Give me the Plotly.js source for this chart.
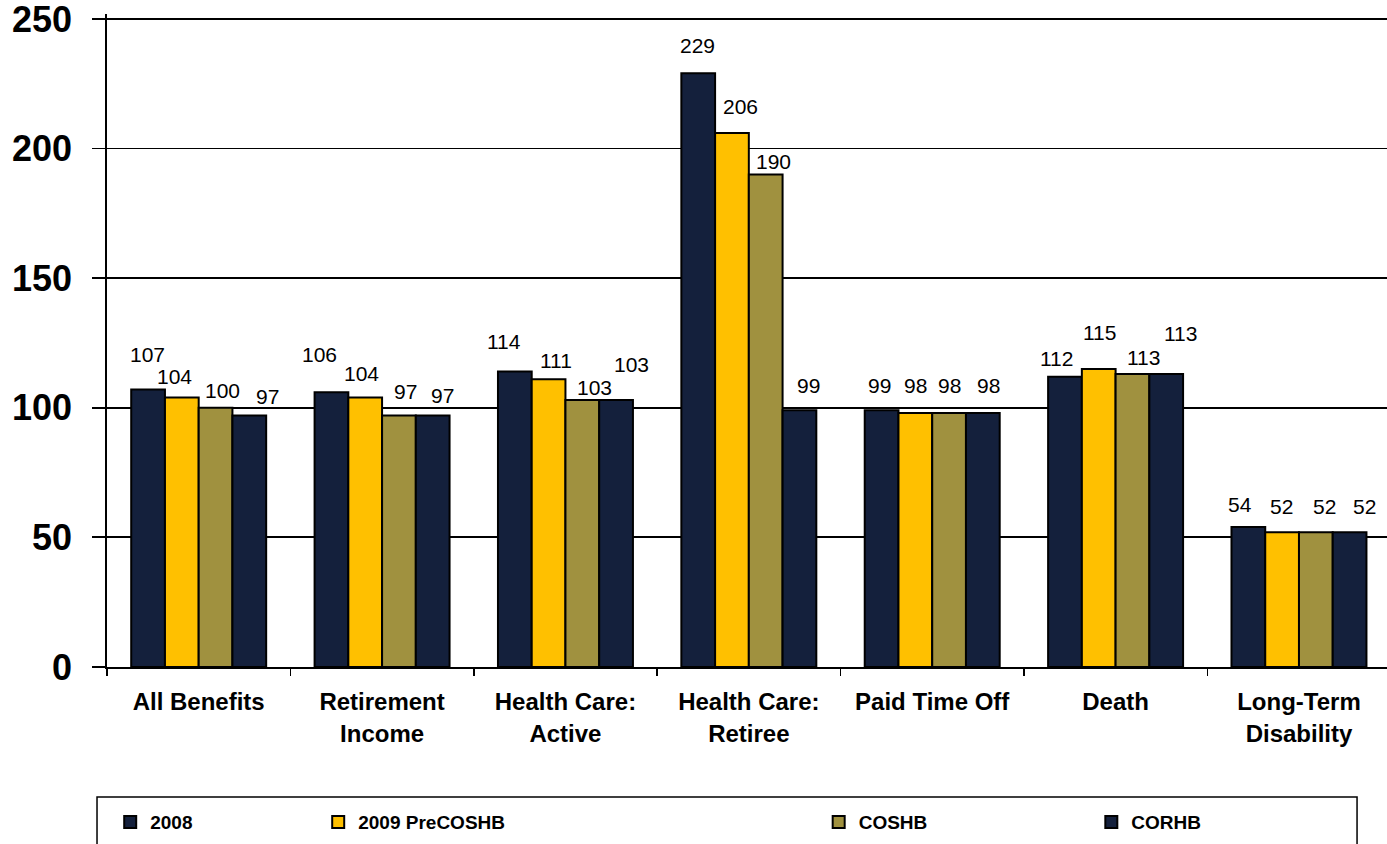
<!DOCTYPE html>
<html>
<head>
<meta charset="utf-8">
<script src="https://cdn.plot.ly/plotly-3.0.1.min.js"></script>
<style>
  html, body { margin: 0; padding: 0; background: #ffffff; }
  #chart { width: 1387px; height: 844px; }
</style>
</head>
<body>
<div id="chart"></div>
<script>
// Benefit cost index by benefit type
const categories = [
  'All Benefits',
  'Retirement<br>Income',
  'Health Care:<br>Active',
  'Health Care:<br>Retiree',
  'Paid Time Off',
  'Death',
  'Long-Term<br>Disability'
];

const seriesNames = ['2008', '2009 PreCOSHB', 'COSHB', 'CORHB'];

const values2008       = [107, 106, 114, 229, 99, 112, 54];
const values2009Pre    = [104, 104, 111, 206, 98, 115, 52];
const valuesCOSHB      = [100,  97, 103, 190, 98, 113, 52];
const valuesCORHB      = [ 97,  97, 103,  99, 98, 113, 52];

const yTickStep = 50;
const yMax = 250;

// styling
const seriesColors = ['#14203C', '#FFC000', '#A0913F', '#14203C'];
const FONT = 'Liberation Sans, Arial, Helvetica, sans-serif';
const BAR_GAP = 0.264;

// hand-placed nudges for the value labels (pixels: right, up from bar top)
const labelNudgeX = [
  [-1, -12, -11, -1, -2, -8, -8],
  [-7,  -4,   7,  9,  0,  1, -1],
  [ 7,   7,  12,  8,  0, 11,  9],
  [18,  10,  15,  9,  6, 14, 15]
];
const labelNudgeY = [
  [35, 38, 30, 28, 25,   18, 23],
  [21, 24, 19, 26, 27.5, 36, 26],
  [17, 24, 12, 13, 27.5, 17, 26],
  [19, 20.5, 35, 25, 27.5, 41, 26]
];

const allSeries = [values2008, values2009Pre, valuesCOSHB, valuesCORHB];
const legendIds = ['legend', 'legend2', 'legend3', 'legend4'];

const traces = allSeries.map((vals, j) => ({
  type: 'bar',
  name: seriesNames[j],
  x: categories,
  y: vals,
  legend: legendIds[j],
  showlegend: true,
  marker: { color: seriesColors[j], line: { color: '#000000', width: 2 } },
  hoverinfo: 'x+y+name'
}));

// value labels, attached to each bar's value
const slotWidth = (1 - BAR_GAP) / allSeries.length;
const annotations = [];
allSeries.forEach((vals, j) => {
  vals.forEach((v, i) => {
    annotations.push({
      xref: 'x', yref: 'y',
      x: i + (j - (allSeries.length - 1) / 2) * slotWidth,
      y: v,
      text: String(v),
      showarrow: false,
      xanchor: 'center', yanchor: 'middle',
      xshift: labelNudgeX[j][i],
      yshift: labelNudgeY[j][i],
      font: { family: FONT, size: 21, color: '#000000' }
    });
  });
});

function legendAt(xPaper) {
  return {
    x: xPaper, xanchor: 'left',
    y: -0.2375, yanchor: 'middle',
    orientation: 'h',
    bgcolor: 'rgba(0,0,0,0)',
    borderwidth: 0,
    font: { family: FONT, size: 19, color: '#000000', weight: 'bold' }
  };
}

const layout = {
  width: 1387,
  height: 844,
  margin: { l: 107, r: 0, t: 14, b: 177, pad: 0 },
  paper_bgcolor: '#ffffff',
  plot_bgcolor: '#ffffff',
  showlegend: true,
  barmode: 'group',
  bargap: BAR_GAP,
  bargroupgap: 0,
  font: { family: FONT, color: '#000000' },
  xaxis: {
    type: 'category',
    range: [-0.5, 6.48],
    showgrid: false,
    showline: true,
    linecolor: '#000000',
    linewidth: 1.5,
    ticks: 'outside',
    tickson: 'boundaries',
    ticklen: 7,
    tickwidth: 1.5,
    tickcolor: '#000000',
    ticklabelstandoff: 13,
    tickfont: { family: FONT, size: 24, color: '#000000', weight: 'bold' },
    fixedrange: true
  },
  yaxis: {
    autorange: false,
    range: [0, yMax + 1.9],
    tickmode: 'linear',
    tick0: 0,
    dtick: yTickStep,
    ticklabeloverflow: 'allow',
    showgrid: true,
    gridcolor: '#000000',
    gridwidth: 1.8,
    zeroline: false,
    showline: true,
    linecolor: '#000000',
    linewidth: 1.8,
    ticks: 'outside',
    ticklen: 13,
    tickwidth: 1.8,
    tickcolor: '#000000',
    ticklabelstandoff: 13,
    tickfont: { family: FONT, size: 36, color: '#000000', weight: 'bold' },
    fixedrange: true
  },
  legend: legendAt(0.0025),
  legend2: legendAt(0.165),
  legend3: legendAt(0.556),
  legend4: legendAt(0.769),
  shapes: [{
    type: 'rect',
    xref: 'paper', yref: 'paper',
    x0: -0.0078, x1: 0.9766,
    y0: -0.199, y1: -0.30,
    line: { color: '#000000', width: 1.5 },
    fillcolor: 'rgba(0,0,0,0)',
    layer: 'below'
  }],
  annotations: annotations
};

Plotly.newPlot('chart', traces, layout, { displayModeBar: false, staticPlot: true });
</script>
</body>
</html>
